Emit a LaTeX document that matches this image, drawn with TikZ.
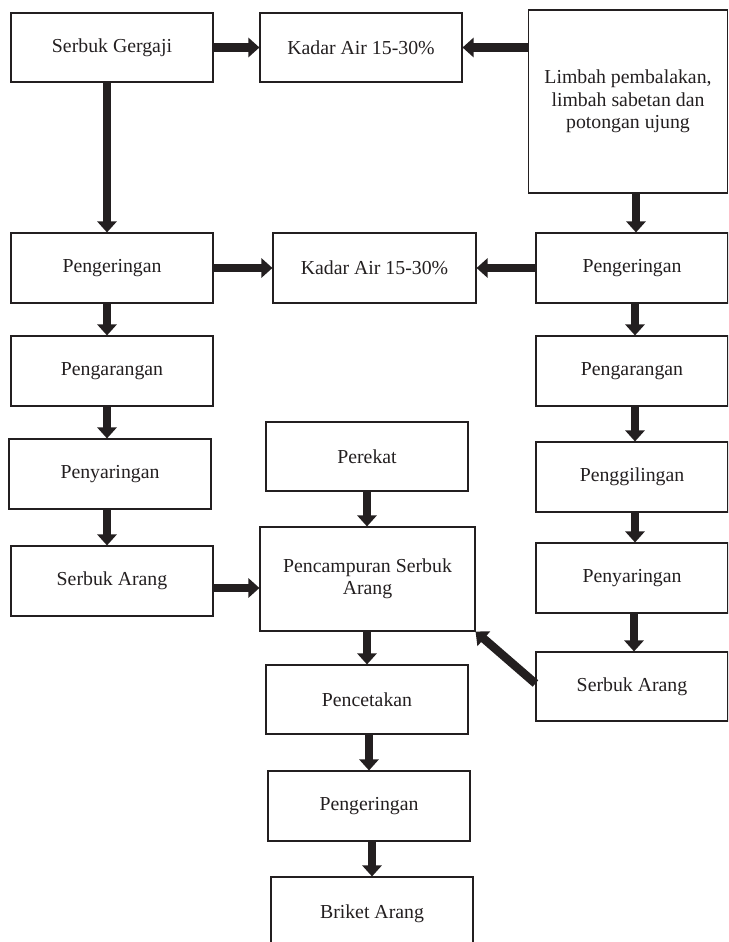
\documentclass[tikz,border=0pt]{standalone}
\usepackage{fontspec}
\setmainfont{Liberation Serif}
\usetikzlibrary{arrows.meta}
\definecolor{ink}{HTML}{231F20}
\tikzset{
  box/.style={draw=ink, line width=1.1pt, rectangle, align=center, text=ink,
    font=\fontsize{19.8}{22.5}\selectfont, inner sep=0pt},
  arr/.style={draw=ink, line width=8.5pt, -{Triangle[length=11pt,width=19pt]}},
}
\begin{document}
\begin{tikzpicture}[x=1pt,y=-1pt]
\useasboundingbox (0,0) rectangle (728,942);
\clip (0,0) rectangle (728,942);
% left column
\node[box, minimum width=202pt, minimum height=69pt] (sg) at (112,47.5) {Serbuk Gergaji};
\node[box, minimum width=202pt, minimum height=70pt] (p1) at (112,268) {Pengeringan};
\node[box, minimum width=202pt, minimum height=70pt] (ga1) at (112,371) {Pengarangan};
\node[box, minimum width=202pt, minimum height=70pt] (sy1) at (110,474) {Penyaringan};
\node[box, minimum width=202pt, minimum height=70pt] (sa1) at (112,581) {Serbuk Arang};
% middle column
\node[box, minimum width=202pt, minimum height=69pt] (k1) at (361,47.5) {Kadar Air 15-30\%};
\node[box, minimum width=203pt, minimum height=70pt] (k2) at (374.5,268) {Kadar Air 15-30\%};
\node[box, minimum width=202pt, minimum height=69pt] (pr) at (367,456.5) {Perekat};
\node[box, minimum width=215pt, minimum height=104pt] (pc) at (367.5,579) {Pencampuran Serbuk\\Arang};
\node[box, minimum width=202pt, minimum height=69pt] (ct) at (367,699.5) {Pencetakan};
\node[box, minimum width=202pt, minimum height=70pt] (pg) at (369,806) {Pengeringan};
\node[box, minimum width=202pt, minimum height=73pt] (br) at (372,913.5) {Briket Arang};
% right column
\node[box, minimum width=199pt, minimum height=183pt] (lb) at (628,101.5) {Limbah pembalakan,\\limbah sabetan dan\\potongan ujung};
\node[box, minimum width=192pt, minimum height=70pt] (p2) at (632,268) {Pengeringan};
\node[box, minimum width=192pt, minimum height=70pt] (ga2) at (632,371) {Pengarangan};
\node[box, minimum width=192pt, minimum height=70pt] (gl) at (632,477) {Penggilingan};
\node[box, minimum width=192pt, minimum height=70pt] (sy2) at (632,578) {Penyaringan};
\node[box, minimum width=192pt, minimum height=69pt] (sa2) at (632,686.5) {Serbuk Arang};
% connectors
\draw[arr] (sg.east) -- (k1.west);
\draw[arr] (k1.east -| lb.west) -- (k1.east);
\draw[arr] ([xshift=-5pt]sg.south) -- ([xshift=-5pt]p1.north);
\draw[arr] (p1.east) -- (k2.west);
\draw[arr] (p2.west) -- (k2.east);
\draw[arr] ([xshift=4pt]p2.north |- lb.south) -- ([xshift=4pt]p2.north);
\draw[arr] ([xshift=-5pt]p1.south) -- ([xshift=-5pt]ga1.north);
\draw[arr] ([xshift=-5pt]ga1.south) -- ([xshift=-5pt]ga1.south |- sy1.north);
\draw[arr] ([xshift=-3pt]sy1.south) -- ([xshift=-3pt]sy1.south |- sa1.north);
\draw[arr] ([yshift=-7pt]sa1.east) -- ([yshift=-7pt]sa1.east -| pc.west);
\draw[arr] (pr.south) -- (pr.south |- pc.north);
\draw[arr] ([xshift=3pt]p2.south) -- ([xshift=3pt]ga2.north);
\draw[arr] ([xshift=3pt]ga2.south) -- ([xshift=3pt]gl.north);
\draw[arr] ([xshift=3pt]gl.south) -- ([xshift=3pt]sy2.north);
\draw[arr] ([xshift=2pt]sy2.south) -- ([xshift=2pt]sa2.north);
\draw[arr] ([yshift=3pt]sa2.west) -- (pc.south east);
\draw[arr] (ct.north |- pc.south) -- (ct.north);
\draw[arr] (pg.north |- ct.south) -- (pg.north);
\draw[arr] (br.north |- pg.south) -- (br.north);
\end{tikzpicture}
\end{document}
